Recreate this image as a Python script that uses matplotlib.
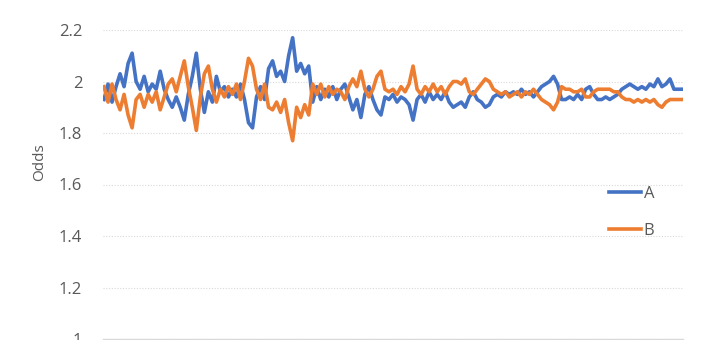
import numpy as np
import matplotlib
matplotlib.use("Agg")
import matplotlib.pyplot as plt

# values, left to right
series_a = [
    1.93, 1.99, 1.92, 1.98, 2.03, 1.98, 2.07, 2.11, 2.00, 1.97,
    2.02, 1.96, 1.99, 1.97, 2.04, 1.97, 1.93, 1.90, 1.94, 1.90,
    1.85, 1.95, 2.02, 2.11, 1.97, 1.88, 1.96, 1.92, 2.02, 1.96,
    1.98, 1.94, 1.97, 1.94, 1.99, 1.93, 1.84, 1.82, 1.94, 1.98,
    1.93, 2.05, 2.08, 2.02, 2.04, 2.00, 2.10, 2.17, 2.04, 2.07,
    2.03, 2.06, 1.92, 1.98, 1.93, 1.97, 1.94, 1.98, 1.93, 1.97,
    1.99, 1.94, 1.89, 1.93, 1.86, 1.95, 1.98, 1.93, 1.89, 1.87,
    1.94, 1.93, 1.95, 1.92, 1.94, 1.93, 1.91, 1.85, 1.93, 1.95,
    1.92, 1.96, 1.93, 1.95, 1.93, 1.96, 1.92, 1.90, 1.91, 1.92,
    1.90, 1.94, 1.96, 1.93, 1.92, 1.90, 1.91, 1.94, 1.95, 1.94,
    1.96, 1.95, 1.96, 1.95, 1.97, 1.95, 1.96, 1.94, 1.96, 1.98,
    1.99, 2.00, 2.02, 1.99, 1.93, 1.93, 1.94, 1.93, 1.95, 1.93,
    1.97, 1.98, 1.95, 1.93, 1.93, 1.94, 1.93, 1.94, 1.95, 1.97,
    1.98, 1.99, 1.98, 1.97, 1.98, 1.97, 1.99, 1.98, 2.01, 1.98,
    1.99, 2.01, 1.97, 1.97, 1.97,
]
series_b = [
    1.98, 1.92, 1.99, 1.93, 1.89, 1.95, 1.87, 1.82, 1.93, 1.95,
    1.90, 1.95, 1.92, 1.96, 1.89, 1.94, 1.99, 2.01, 1.96, 2.02,
    2.08, 1.98, 1.90, 1.81, 1.94, 2.03, 2.06, 1.97, 1.92, 1.97,
    1.94, 1.98, 1.95, 1.99, 1.93, 2.00, 2.09, 2.06, 1.97, 1.93,
    1.99, 1.90, 1.89, 1.92, 1.88, 1.93, 1.84, 1.77, 1.90, 1.86,
    1.91, 1.87, 1.99, 1.95, 1.99, 1.94, 1.98, 1.95, 1.97, 1.96,
    1.93, 1.98, 2.01, 1.98, 2.04, 1.97, 1.94, 1.97, 2.02, 2.04,
    1.97, 1.96, 1.97, 1.95, 1.98, 1.96, 1.99, 2.06, 1.97, 1.95,
    1.98, 1.96, 1.99, 1.96, 1.98, 1.95, 1.98, 2.00, 2.00, 1.99,
    2.01, 1.96, 1.95, 1.97, 1.99, 2.01, 2.00, 1.97, 1.96, 1.95,
    1.96, 1.94, 1.95, 1.96, 1.94, 1.96, 1.95, 1.97, 1.95, 1.93,
    1.92, 1.91, 1.89, 1.92, 1.98, 1.97, 1.97, 1.96, 1.96, 1.97,
    1.94, 1.94, 1.96, 1.97, 1.97, 1.97, 1.97, 1.96, 1.96, 1.94,
    1.93, 1.93, 1.92, 1.93, 1.92, 1.93, 1.92, 1.93, 1.91, 1.90,
    1.92, 1.93, 1.93, 1.93, 1.93,
]
labels = ["A", "B"]
y_ticks = [1, 1.2, 1.4, 1.6, 1.8, 2, 2.2]
y_ticklabels = ["1", "1.2", "1.4", "1.6", "1.8", "2", "2.2"]

plt.rcParams["font.family"] = ["Open Sans", "DejaVu Sans"]
text_col = "#595959"

fig = plt.figure(figsize=(7.2, 3.4), dpi=100)
ax = fig.add_axes([103 / 720, 1 - 339 / 340, 580 / 720, 309 / 340])

x = np.arange(len(series_a))
ax.plot(x, series_a, color="#4472C4", lw=2.6, label=labels[0])
ax.plot(x, series_b, color="#ED7D31", lw=2.6, label=labels[1])

ax.set_xlim(-0.25, len(x) - 0.75)
ax.set_ylim(1, 2.2)
ax.set_yticks(y_ticks)
ax.set_yticklabels(y_ticklabels)
ax.set_xticks([])
ax.tick_params(axis="y", length=0, pad=15, labelsize=12, labelcolor=text_col)
ax.yaxis.grid(True, color="#D9D9D9", linestyle=(0, (1, 1.5)), lw=0.8)
ax.set_axisbelow(True)
for s in ["top", "right", "left"]:
    ax.spines[s].set_visible(False)
ax.spines["bottom"].set_color("#D9D9D9")
ax.spines["bottom"].set_linewidth(1.0)

fig.text(40 / 720, 1 - 162 / 340, "Odds", rotation=90, ha="center", va="center",
         fontsize=11, color=text_col)

leg = ax.legend(loc="center left", bbox_to_anchor=(601 / 720, 1 - 212.5 / 340),
                bbox_transform=fig.transFigure, frameon=False, borderpad=0,
                handlelength=1.9, handletextpad=0.15, labelspacing=1.3, fontsize=12)
for t in leg.get_texts():
    t.set_color(text_col)

fig.savefig("out.png", dpi=100)
